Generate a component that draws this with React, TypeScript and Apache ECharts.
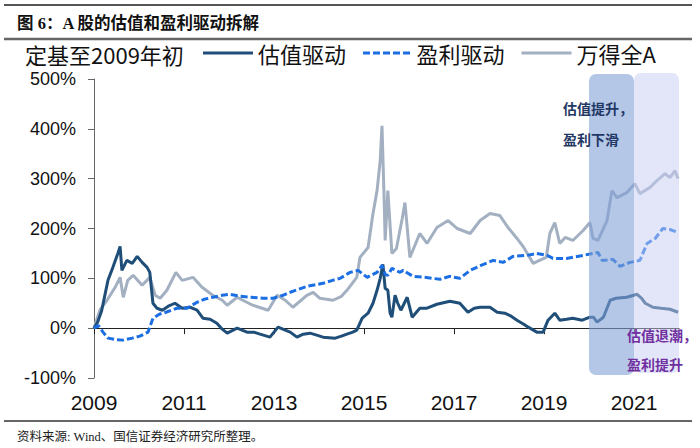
import React, { useEffect, useRef } from "react";
import * as echarts from "echarts";

// x tick labels
const yearTicks = [2009, 2011, 2013, 2015, 2017, 2019, 2021];
const seriesNames = ["估值驱动", "盈利驱动", "万得全A"];

// 估值驱动 (valuation driver), % vs start of 2009
const valYears = [
  2009.0, 2009.08, 2009.17, 2009.31, 2009.42, 2009.53, 2009.58, 2009.62, 2009.73, 2009.85, 2009.96,
  2010.07, 2010.18, 2010.24, 2010.31, 2010.4, 2010.52, 2010.65, 2010.8, 2010.96, 2011.13, 2011.29,
  2011.42, 2011.58, 2011.73, 2011.85, 2011.96, 2012.18, 2012.4, 2012.55, 2012.69, 2012.91, 2013.09,
  2013.25, 2013.36, 2013.51, 2013.65, 2013.8, 2013.95, 2014.09, 2014.36, 2014.5, 2014.62, 2014.75,
  2014.84, 2014.96, 2015.09, 2015.2, 2015.29, 2015.36, 2015.42, 2015.47, 2015.53, 2015.58, 2015.62,
  2015.69, 2015.75, 2015.82, 2015.96, 2016.07, 2016.24, 2016.4, 2016.62, 2016.91, 2017.13, 2017.31,
  2017.45, 2017.58, 2017.8, 2017.96, 2018.13, 2018.27, 2018.4, 2018.55, 2018.65, 2018.84, 2018.98,
  2019.09, 2019.24, 2019.35, 2019.5, 2019.64, 2019.85, 2020.02, 2020.1, 2020.18, 2020.32, 2020.47,
  2020.6, 2020.84, 2021.07, 2021.17, 2021.25, 2021.42, 2021.6, 2021.8, 2021.98,
];
const valData = [
  0, 12, 35, 96, 122, 150, 164, 116, 136, 130, 144,
  132, 122, 112, 50, 40, 36, 44, 50, 40, 42, 36,
  20, 18, 10, -2, -10, 0, -8, -8, -12, -18, 2,
  -4, -8, -18, -12, -10, -14, -18, -20, -16, -12, -8,
  -4, 20, 30, 50, 76, 100, 128, 80, 76, 30, 22,
  66, 50, 36, 62, 22, 40, 40, 48, 54, 50, 32,
  40, 42, 42, 32, 30, 24, 16, 8, 2, -8, -8,
  16, 30, 16, 18, 20, 16, 22, 22, 12, 22, 56,
  60, 62, 68, 60, 50, 42, 40, 38, 32,
];

// 盈利驱动 (earnings driver)
const earnYears = [
  2009.0, 2009.1, 2009.2, 2009.31, 2009.5, 2009.65, 2009.85, 2010.02, 2010.2, 2010.31, 2010.45,
  2010.6, 2010.84, 2011.07, 2011.29, 2011.45, 2011.64, 2011.85, 2012.02, 2012.24, 2012.5, 2012.75,
  2012.98, 2013.2, 2013.36, 2013.55, 2013.73, 2014.09, 2014.3, 2014.47, 2014.69, 2014.87, 2015.07,
  2015.2, 2015.29, 2015.4, 2015.47, 2015.53, 2015.62, 2015.8, 2015.87, 2016.09, 2016.35, 2016.69,
  2016.9, 2017.13, 2017.36, 2017.6, 2017.87, 2018.09, 2018.31, 2018.62, 2018.84, 2019.07, 2019.2,
  2019.5, 2019.87, 2020.2, 2020.29, 2020.53, 2020.69, 2020.91, 2021.13, 2021.29, 2021.47, 2021.64,
  2021.8, 2021.98,
];
const earnData = [
  0, 5, -8, -20, -23, -24, -20, -16, -8, 20, 28,
  32, 40, 40, 52, 58, 62, 66, 68, 64, 62, 60,
  60, 66, 72, 78, 84, 90, 96, 100, 112, 116, 102,
  108, 112, 126, 108, 106, 120, 112, 116, 104, 102, 98,
  104, 100, 116, 126, 136, 132, 144, 146, 150, 146, 140,
  140, 146, 152, 136, 138, 124, 132, 136, 170, 180, 200,
  198, 192,
];

// 万得全A (Wind All A index)
const indexYears = [
  2009.0, 2009.13, 2009.29, 2009.47, 2009.58, 2009.65, 2009.75, 2009.87, 2010.07, 2010.24, 2010.36,
  2010.47, 2010.62, 2010.82, 2010.96, 2011.2, 2011.4, 2011.64, 2011.85, 2011.96, 2012.18, 2012.35,
  2012.53, 2012.87, 2013.07, 2013.25, 2013.42, 2013.73, 2013.87, 2014.02, 2014.31, 2014.5, 2014.62,
  2014.84, 2014.91, 2015.09, 2015.2, 2015.29, 2015.36, 2015.4, 2015.45, 2015.47, 2015.53, 2015.62,
  2015.72, 2015.85, 2015.91, 2016.02, 2016.24, 2016.4, 2016.62, 2016.87, 2017.07, 2017.36, 2017.58,
  2017.8, 2018.02, 2018.2, 2018.4, 2018.55, 2018.76, 2018.9, 2019.05, 2019.13, 2019.24, 2019.35,
  2019.47, 2019.64, 2019.87, 2020.02, 2020.09, 2020.2, 2020.4, 2020.51, 2020.62, 2020.84, 2021.02,
  2021.13, 2021.35, 2021.51, 2021.69, 2021.8, 2021.91, 2021.98,
];
const indexData = [
  0, 36, 56, 82, 102, 62, 96, 106, 86, 102, 66,
  60, 76, 112, 96, 102, 82, 66, 56, 46, 62, 54,
  46, 36, 66, 56, 42, 66, 72, 60, 56, 64, 76,
  102, 142, 162, 230, 276, 336, 406, 250, 176, 276, 150,
  160, 220, 252, 142, 190, 170, 202, 216, 200, 190, 216,
  230, 226, 202, 180, 162, 130, 136, 142, 190, 212, 170,
  182, 176, 196, 212, 180, 176, 216, 276, 262, 272, 290,
  270, 282, 296, 310, 302, 316, 300,
];

// shaded periods
const phase1 = [2020, 2021];
const phase2 = [2021, 2022];

const pairs = (xs: number[], ys: number[]) => xs.map((x, i) => [x, ys[i]]);

const CJK = "'Noto Sans CJK SC', sans-serif";
const SERIF = "'Liberation Serif', 'Noto Sans CJK SC', serif";
const DASH_ICON = "path://M0,0h7v3h-7zM10,0h7v3h-7zM20,0h7v3h-7zM30,0h7v3h-7zM40,0h7v3h-7z";

const C_VAL = "#1F4E79";
const C_EARN = "#1C6FE3";
const C_IDX = "#A3B0C2";

export default function App() {
  const ref = useRef<HTMLDivElement>(null);
  useEffect(() => {
    if (!ref.current) return;
    const chart = echarts.init(ref.current, undefined, { renderer: "svg" });
    const staticGraphic: any[] = [
      { id: "topLine", type: "line", shape: { x1: 4, y1: 5, x2: 692, y2: 5 }, style: { stroke: "#555", lineWidth: 2 } },
      {
        id: "title", type: "text", x: 17, y: 23,
        style: { text: "图 6：A 股的估值和盈利驱动拆解", font: `bold 16.5px ${SERIF}`, fill: "#111", verticalAlign: "middle" },
      },
      { id: "titleLine", type: "line", shape: { x1: 4, y1: 39, x2: 692, y2: 39 }, style: { stroke: "#666", lineWidth: 2.5 } },
      {
        id: "unit", type: "text", x: 25, y: 54,
        style: { text: "定基至2009年初", font: `22px ${CJK}`, fill: "#111", verticalAlign: "middle" },
      },
      { id: "bottomLine", type: "line", shape: { x1: 4, y1: 421, x2: 692, y2: 421 }, style: { stroke: "#333", lineWidth: 1.5 } },
      {
        id: "source", type: "text", x: 17, y: 437,
        style: { text: "资料来源: Wind、国信证券经济研究所整理。", font: `12.5px ${SERIF}`, fill: "#222", verticalAlign: "middle" },
      },
    ];
    const option: any = {
      animation: false,
      backgroundColor: "#fff",
      grid: { left: 94, right: 21, top: 79, bottom: 70, containLabel: false },
      legend: {
        data: [
          { name: seriesNames[0], icon: "rect", itemStyle: { color: C_VAL } },
          { name: seriesNames[1], icon: DASH_ICON, itemStyle: { color: C_EARN } },
          { name: seriesNames[2], icon: "rect", itemStyle: { color: C_IDX } },
        ],
        left: 198,
        top: 37,
        itemWidth: 50,
        itemHeight: 3,
        itemGap: 17,
        textStyle: { fontSize: 22, fontFamily: CJK, color: "#111" },
      },
      xAxis: [
        {
          type: "value", min: 2009, max: 2022, position: "bottom",
          axisLine: { show: true, onZero: true, lineStyle: { color: "#222", width: 1 } },
          axisTick: { show: true, length: 6, inside: false, customValues: yearTicks, lineStyle: { color: "#222" } },
          axisLabel: { show: false },
          splitLine: { show: false },
        },
        {
          type: "value", min: 2009, max: 2022, position: "bottom",
          axisLine: { show: false, onZero: false },
          axisTick: { show: false },
          axisLabel: {
            show: true, customValues: yearTicks, fontSize: 21, color: "#111", margin: 14,
            fontFamily: "'Liberation Sans', Arial, sans-serif",
            formatter: (v: number) => String(Math.round(v)),
          },
          splitLine: { show: false },
        },
      ],
      yAxis: {
        type: "value", min: -100, max: 500, interval: 100,
        axisLine: { show: true, lineStyle: { color: "#666", width: 1 } },
        axisTick: { show: true, length: 6, inside: false, lineStyle: { color: "#666" } },
        axisLabel: { formatter: "{value}%", fontSize: 18, color: "#111", margin: 18, fontFamily: "'Liberation Sans', Arial, sans-serif" },
        splitLine: { show: false },
      },
      series: [
        {
          name: seriesNames[0], type: "line", symbol: "none", showSymbol: false, z: 3,
          data: pairs(valYears, valData),
          lineStyle: { color: C_VAL, width: 3 }, itemStyle: { color: C_VAL },
        },
        {
          name: seriesNames[1], type: "line", symbol: "none", showSymbol: false, z: 4,
          data: pairs(earnYears, earnData),
          lineStyle: { color: C_EARN, width: 3, type: [7, 3] }, itemStyle: { color: C_EARN },
        },
        {
          name: seriesNames[2], type: "line", symbol: "none", showSymbol: false, z: 2,
          data: pairs(indexYears, indexData),
          lineStyle: { color: C_IDX, width: 3 }, itemStyle: { color: C_IDX },
        },
      ],
      graphic: { elements: staticGraphic },
    };
    chart.setOption(option);

    const px = (x: number, y: number) => chart.convertToPixel({ gridIndex: 0 }, [x, y]) as number[];
    const a1 = px(phase1[0], 510), b1 = px(phase1[1], -94);
    const a2 = px(phase2[0], 512), b2 = px(phase2[1], -90);
    const dynamic: any[] = [
      {
        id: "shade2", type: "rect", z: 10,
        shape: { x: a2[0], y: a2[1], width: b2[0] - a2[0], height: b2[1] - a2[1], r: 7 },
        style: { fill: "rgba(200,205,242,0.5)" },
      },
      {
        id: "shade1", type: "rect", z: 11,
        shape: { x: a1[0], y: a1[1], width: b1[0] - a1[0], height: b1[1] - a1[1], r: 7 },
        style: { fill: "rgba(130,162,215,0.6)" },
      },
      {
        id: "note1a", type: "text", z: 20, x: 563, y: 108,
        style: { text: "估值提升，", font: `bold 14px ${CJK}`, fill: "#1F3864", verticalAlign: "middle" },
      },
      {
        id: "note1b", type: "text", z: 20, x: 563, y: 139,
        style: { text: "盈利下滑", font: `bold 14px ${CJK}`, fill: "#1F3864", verticalAlign: "middle" },
      },
      {
        id: "note2a", type: "text", z: 20, x: 627, y: 335,
        style: { text: "估值退潮，", font: `bold 14px ${CJK}`, fill: "#7030A0", verticalAlign: "middle" },
      },
      {
        id: "note2b", type: "text", z: 20, x: 627, y: 364,
        style: { text: "盈利提升", font: `bold 14px ${CJK}`, fill: "#7030A0", verticalAlign: "middle" },
      },
    ];
    chart.setOption({ graphic: { elements: [...staticGraphic, ...dynamic] } });
    return () => chart.dispose();
  }, []);
  return <div ref={ref} style={{ position: "absolute", left: 0, top: 0, width: 700, height: 448 }} />;
}
